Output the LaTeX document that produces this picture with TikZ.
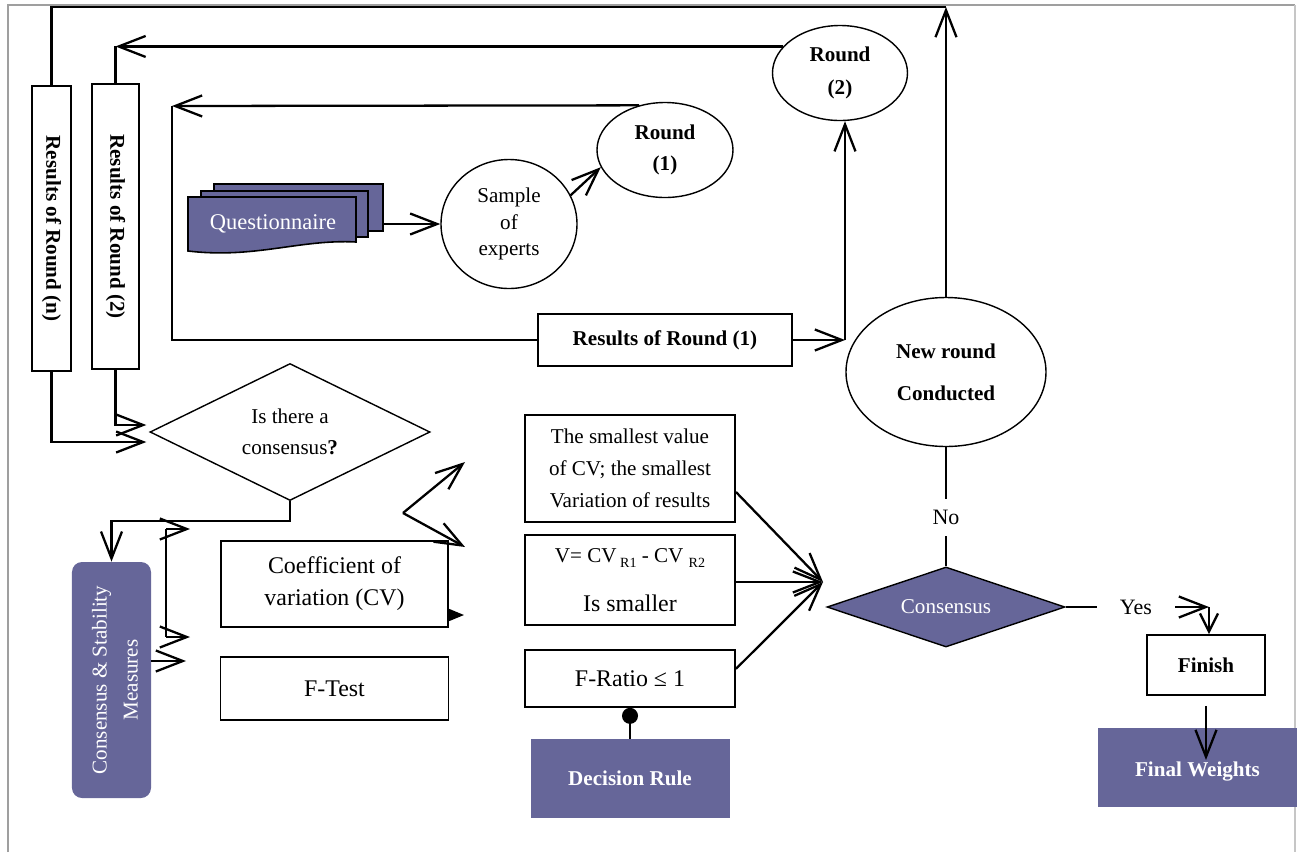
\documentclass[tikz,border=0pt]{standalone}
\usepackage{fontspec}
\setmainfont{Liberation Serif}
\usetikzlibrary{shapes.geometric,arrows.meta,positioning}
\definecolor{delphi}{HTML}{666699}
\tikzset{
	plainbox/.style={rectangle, draw=black, line width=1.1pt, fill=white, align=center, inner sep=2pt},
	darkbox/.style={rectangle, fill=delphi, text=white, align=center, inner sep=2pt},
	roundnode/.style={ellipse, draw=black, line width=0.8pt, align=center, inner sep=1pt},
	askbox/.style={diamond, draw=black, line width=0.8pt, align=center, inner sep=0pt, aspect=3},
	flowarr/.style={-{Straight Barb[length=5.4mm,width=4.2mm]}, line width=1.3pt},
	smallarr/.style={-{Straight Barb[length=3.6mm,width=3.6mm]}, line width=1.3pt},
	flowline/.style={line width=1.3pt},
	edgelabel/.style={fill=white, inner sep=0pt, font=\fontsize{12.5}{15}\selectfont}
}
\begin{document}
\begin{tikzpicture}[x=0.2mm, y=-0.2mm, node distance=2.2mm]
\useasboundingbox (0,0) rectangle (1297,852);
\draw[gray!75, line width=1.2pt] (8,852) -- (8,5) -- (1295,5);
\draw[gray!45, line width=0.6pt] (1295,5) -- (1295,852);

\node[draw=black, line width=0.9pt, fill=delphi, minimum width=33.8mm, minimum height=9.4mm] (qa) at (298.5,207.5) {};
\node[draw=black, line width=0.9pt, fill=delphi, minimum width=33.4mm, minimum height=9.2mm] (qb) at (284.5,214) {};
\filldraw[fill=delphi, line width=0.9pt] (188,197) -- (356,197) -- (356,242) .. controls (300,239) and (255,259) .. (188,251) -- cycle;
\node[text=white, font=\fontsize{12.8}{15}\selectfont] (quest) at (273,224) {Questionnaire};

\node[roundnode, minimum width=27.2mm, minimum height=25.8mm, font=\fontsize{12}{15}\selectfont] (sample) at (509,224) {Sample\\of\\experts};
\node[roundnode, minimum width=27.2mm, minimum height=19mm, font=\fontsize{12}{17.5}\selectfont\bfseries] (round1) at (665,150) {Round\\(1)};
\node[roundnode, minimum width=27mm, minimum height=19mm, font=\fontsize{12}{18.5}\selectfont\bfseries] (round2) at (840,73) {Round\\(2)};
\node[plainbox, minimum width=50.8mm, minimum height=10.4mm, font=\fontsize{12}{14}\selectfont\bfseries] (res1) at (665,340) {Results of Round (1)};
\node[roundnode, minimum width=40mm, minimum height=29.8mm, font=\fontsize{12}{24}\selectfont\bfseries] (newr) at (946,372) {New round\\Conducted};

\node[plainbox, minimum width=7.8mm, minimum height=57mm, font=\fontsize{12}{14}\selectfont\bfseries] (resn) at (51.5,228.5) {\rotatebox{-90}{Results of Round (n)}};
\node[plainbox, minimum width=9.4mm, minimum height=57mm, font=\fontsize{12}{14}\selectfont\bfseries] (res2) at (115.5,226.5) {\rotatebox{-90}{Results of Round (2)}};

\node[askbox, minimum width=56mm, minimum height=27.4mm, font=\fontsize{12}{17.6}\selectfont] (isc) at (290,432) {Is there a\\consensus\textbf{?}};
\node[darkbox, rounded corners=2mm, minimum width=15.8mm, minimum height=47.2mm, font=\fontsize{12}{17.6}\selectfont] (csm) at (111.5,680) {\hspace*{1.8mm}\rotatebox{90}{\begin{tabular}{@{}c@{}}Consensus \& Stability\\Measures\end{tabular}}};
\node[plainbox, minimum width=45.4mm, minimum height=17.2mm, font=\fontsize{13.6}{18.2}\selectfont] (cv) at (334.5,584) {Coefficient of\\variation (CV)};
\node[plainbox, minimum width=45.6mm, minimum height=12.6mm, below=5.6mm of cv, font=\fontsize{13.6}{16}\selectfont] (ftest) {F-Test};

\node[plainbox, minimum width=42mm, minimum height=21.4mm, font=\fontsize{12}{18.2}\selectfont] (sv) at (630,468.5) {The smallest value\\of CV; the smallest\\Variation of results};
\node[plainbox, minimum width=42mm, minimum height=18mm, below=2.2mm of sv, font=\fontsize{12}{14}\selectfont] (vdiff) {V= CV\,\raisebox{-0.5ex}{\fontsize{8}{9}\selectfont R1} - CV \raisebox{-0.5ex}{\fontsize{8}{9}\selectfont R2}\\[14pt]{\fontsize{13.6}{16}\selectfont Is smaller}};
\node[plainbox, minimum width=42mm, minimum height=11.4mm, below=4.6mm of vdiff, font=\fontsize{13.6}{16}\selectfont] (fratio) {F-Ratio ≤ 1};
\node[darkbox, minimum width=39.8mm, minimum height=15.8mm, below=6.2mm of fratio, font=\fontsize{12}{14}\selectfont\bfseries] (dec) {Decision Rule};

\node[askbox, fill=delphi, text=white, minimum width=47.6mm, minimum height=16mm, font=\fontsize{12}{14}\selectfont] (cons) at (946,607) {Consensus};
\node[plainbox, minimum width=23.6mm, minimum height=12mm, font=\fontsize{12}{14}\selectfont\bfseries] (fin) at (1206,665) {Finish};
\node[darkbox, minimum width=39.8mm, minimum height=15.8mm, text height=4.6mm, font=\fontsize{12}{14}\selectfont\bfseries] (fw) at (1197.5,767.5) {Final Weights};

\coordinate (topc) at (946,7);
\coordinate (r1bend) at (172,106);
\coordinate (r2foot) at (845,340);
\coordinate (split) at (111.5,521);
\coordinate (brt) at (166,529);
\coordinate (brb) at (166,637);
\coordinate (brtend) at (190,529);
\coordinate (brbend) at (190,637);
\coordinate (csmend) at (186,661);
\coordinate (zz) at (403,513);
\coordinate (zzup) at (465,462);
\coordinate (zzdn) at (465,547);
\coordinate (cvtip) at (464,615);
\coordinate (conv) at (823,582);
\coordinate (yesend) at (1209,607);

\draw[flowarr] (newr.north) -- (topc);
\draw[flowline] (topc) -| (resn.north);
\draw[flowarr] (round2.155) -- (round2.155 -| res2.north);
\draw[flowline] (round2.155 -| res2.north) -- (res2.north);
\draw[flowarr] (round1.120) -- (r1bend);
\draw[flowline] (r1bend) |- (res1.west);
\draw[flowarr] (res1.east) -- (r2foot);
\draw[flowarr] (r2foot) -- (r2foot |- round2.south);
\draw[flowarr] (qa.east |- sample.west) -- (sample.west);
\draw[flowarr] (sample.25) -- (round1.195);
\draw[flowarr] (res2.south) |- ([xshift=-0.6mm,yshift=1.4mm]isc.west);
\draw[flowarr] (resn.south) |- ([xshift=-0.6mm,yshift=-2mm]isc.west);
\draw[flowarr] (isc.south) |- (split) -- (csm.north);
\draw[flowline] (brt) -- (brb);
\draw[flowarr] (brt) -- (brtend);
\draw[flowarr] (brb) -- (brbend);
\draw[flowarr] (csm.east |- csmend) -- (csmend);
\draw[flowarr] (zz) -- (zzup);
\draw[flowarr] (zz) -- (zzdn);
\draw[-{Triangle[length=3mm,width=2.4mm]}, line width=0.8pt] (cv.east |- cvtip) -- (cvtip);
\draw[flowarr] ([yshift=-4.7mm]sv.east) -- (conv);
\draw[flowarr] (vdiff.east |- conv) -- (conv);
\draw[flowarr] ([yshift=1.9mm]fratio.east) -- (conv);
\draw[{Circle[length=3.2mm]}-, line width=1.3pt] (fratio.south) -- (dec.north);
\draw[flowline] (newr.south) -- node[edgelabel, pos=0.59, inner ysep=2.2mm] (nolbl) {No} (cons.north);
\draw[flowarr] (cons.east) -- node[edgelabel, pos=0.49, inner xsep=4.6mm] (yeslbl) {Yes} (yesend);
\draw[smallarr] (yesend) -- (fin.north -| yesend);
\draw[flowarr, shorten <=2mm, shorten >=1.5mm] (fin.south) -- (fin.south |- fw.center);
\end{tikzpicture}
\end{document}
